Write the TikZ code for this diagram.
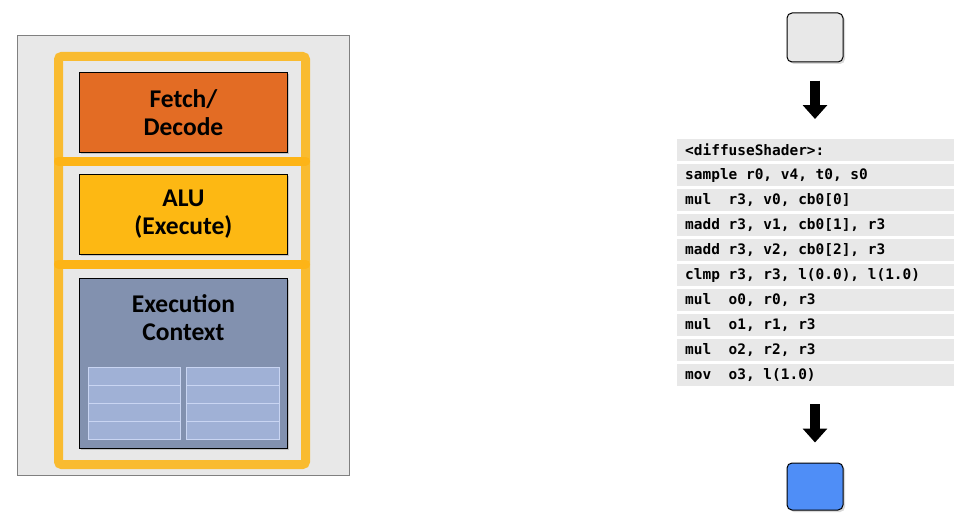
\documentclass[tikz,border=0pt]{standalone}
\usepackage{fontspec}
\setmainfont{Carlito}
\setmonofont{DejaVu Sans Mono}
\usetikzlibrary{arrows.meta,positioning,shadows}
\definecolor{fetchorange}{HTML}{E36C24}
\definecolor{alugold}{HTML}{FDB813}
\definecolor{ctxblue}{HTML}{8291AF}
\definecolor{cellblue}{HTML}{A0B1D6}
\definecolor{cellline}{HTML}{C9D5F2}
\definecolor{coregray}{HTML}{E8E8E8}
\definecolor{framegold}{HTML}{F9BB30}
\definecolor{bargold}{HTML}{FDB417}
\definecolor{outblue}{HTML}{4F8EF7}
% fixed-width spaces for the code listing
\newcommand\monospaces{\fontdimen2\font=\fontcharwd\font`0\relax\fontdimen3\font=0pt\relax\fontdimen4\font=0pt\relax}

\begin{document}
\begin{tikzpicture}[x=1pt,y=-1pt,
    unit/.style = {draw=black, line width=0.9pt, minimum width=208pt, inner sep=0pt, align=center,
      font=\fontsize{25.5}{28}\selectfont\bfseries,
      drop shadow={shadow xshift=2pt, shadow yshift=-2pt, opacity=0.35}},
    cell/.style = {draw=cellline, fill=cellblue, line width=1pt, minimum height=18pt, inner sep=0pt, anchor=north west},
    coderow/.style = {fill=coregray, minimum height=22pt, text width=261pt, inner xsep=8pt, inner ysep=0pt,
      align=left, anchor=north west, font=\ttfamily\bfseries\fontsize{14.45}{16}\selectfont\monospaces},
    iobox/.style = {draw=black, line width=1pt, rounded corners=5pt, minimum width=56pt,
      drop shadow={shadow xshift=2pt, shadow yshift=-2pt, opacity=0.3}},
    bigarrow/.style = {line width=10pt, -{Triangle[width=24pt,length=14pt]}}
  ]
  \useasboundingbox (0,0) rectangle (969,527);

  % the core
  \draw[fill=coregray, draw=black!50, line width=1pt] (17,36) rectangle (349,475);
  \draw[framegold, line width=9pt, rounded corners=3pt] (58.5,56.5) rectangle (305.5,464.5);
  \draw[bargold, line width=9pt, line cap=round] (58.5,161) -- (305.5,161);
  \draw[bargold, line width=9pt, line cap=round] (58.5,264) -- (305.5,264);

  \node[unit, fill=fetchorange, minimum height=80pt, anchor=north west] (fetch) at (79,72) {Fetch/\\Decode};
  \node[unit, fill=alugold, minimum height=80pt, anchor=north west] (alu) at (79,174) {ALU\\(Execute)};
  \node[unit, fill=ctxblue, minimum height=170pt, anchor=north west] (ctx) at (79,278) {};
  \node[align=center, font=\fontsize{25.5}{28}\selectfont\bfseries] (ctxtext) at ([yshift=-40pt]ctx.north) {Execution\\Context};
  \foreach \row in {0,...,3} {
    \node[cell, minimum width=92pt] (cell-l-\row) at (88,{367+18*\row}) {};
    \node[cell, minimum width=93pt] (cell-r-\row) at (186,{367+18*\row}) {};
  }

  % the shader program
  \node[iobox, fill=coregray, minimum height=49pt] (input) at (815,37.5) {};
  \foreach \instr [count=\k from 0] in {{<diffuseShader>:}, {sample r0, v4, t0, s0}, {mul~~r3, v0, cb0[0]},
      {madd r3, v1, cb0[1], r3}, {madd r3, v2, cb0[2], r3}, {clmp r3, r3, l(0.0), l(1.0)},
      {mul~~o0, r0, r3}, {mul~~o1, r1, r3}, {mul~~o2, r2, r3}, {mov~~o3, l(1.0)}}
    \node[coderow] (code-\k) at (677,{139+25*\k}) {\spaceskip=0pt\xspaceskip=0pt\frenchspacing\instr};
  \node[iobox, fill=outblue, minimum height=47pt] (output) at (815,486.5) {};

  \draw[bigarrow, shorten <=18pt, shorten >=20pt] (input.south) -- (input.south |- code-0.north);
  \draw[bigarrow, shorten <=18pt, shorten >=20pt] (output.north |- code-9.south) -- (output.north);
\end{tikzpicture}
\end{document}
